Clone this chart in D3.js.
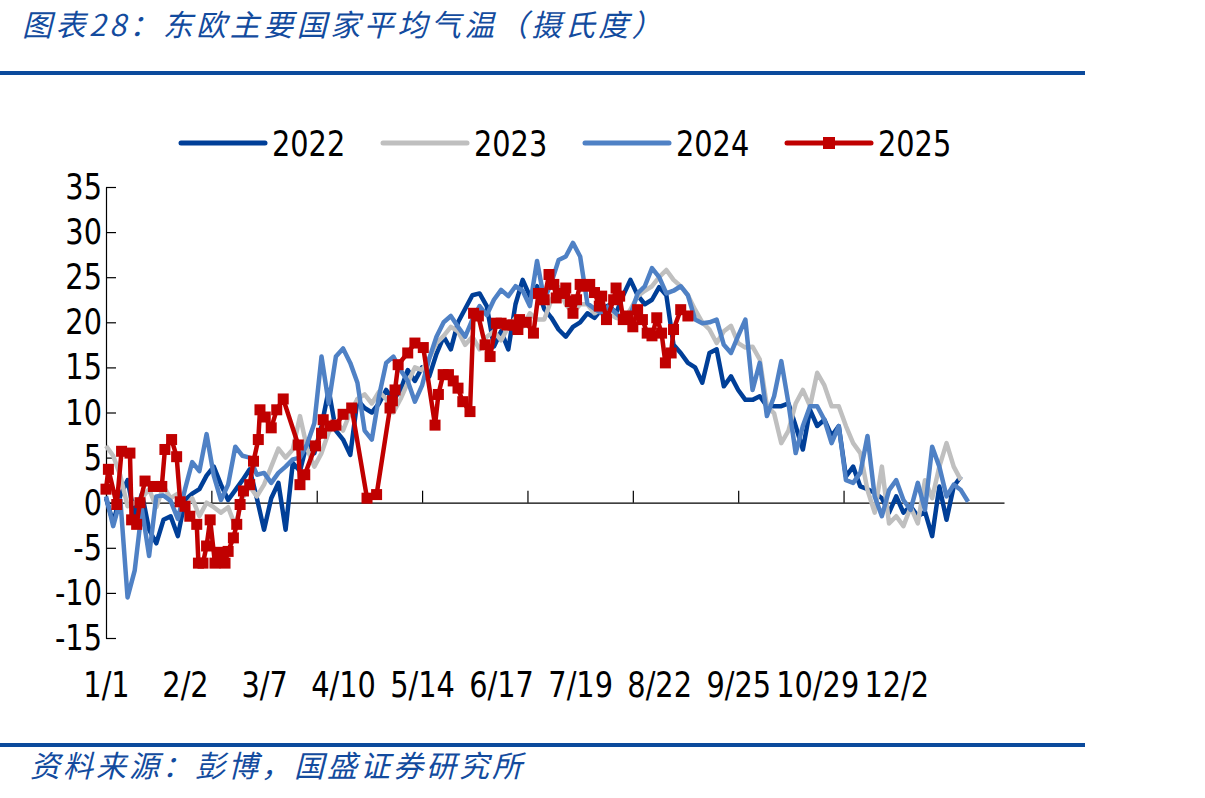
<!DOCTYPE html>
<html>
<head>
<meta charset="utf-8">
<script src="https://cdn.jsdelivr.net/npm/d3@7/dist/d3.min.js"></script>
<style>
  body { margin: 0; background: #fff; }
  svg { display: block; }
  .axis text { font-family: "DejaVu Sans", sans-serif; font-size: 36px; fill: #000; }
</style>
</head>
<body>
<div id="chart"></div>
<script>
const svgWidth = 1205;
const svgHeight = 798;

// category axis: one category per day, labels every 33, tick marks every 44
const tickLabels = ["1/1", "2/2", "3/7", "4/10", "5/14", "6/17", "7/19", "8/22", "9/25", "10/29", "12/2"];
const labelStep = 33;
const tickStep = 44;
const nCats = 375;
const yTicks = [-15, -10, -5, 0, 5, 10, 15, 20, 25, 30, 35];

const years = ["2022", "2023", "2024", "2025"];
const colors = ["#003f98", "#bfbfbf", "#4f81c5", "#c00000"];

// 2022-2024 read every 3 days
const dayIdx = d3.range(0, 361, 3);
const t2022 = [0.5, -2.2, 0.8, 2.5, -1.5, 1, -3, -4.5, -1.9, -1.5, -3.7, 0.3, 1, 1.5, 3, 4, 2, 0.3, 1.4, 2.5,
  3.7, 0.5, -3, 0.5, 2.2, -3, 4.4, 3.5, 6.7, 5.5, 8.5, 12.5, 8, 7, 5.3, 11.4, 10.5, 10, 11, 12.5,
  11.4, 12.5, 14.7, 13.5, 15, 14, 16.5, 18.4, 17, 20, 21.5, 23, 23.2, 21.8, 17.3, 19, 17, 22, 24.7, 22.9,
  24, 21.5, 20.5, 19.2, 18.4, 19.5, 20, 21, 20.5, 21.5, 21.9, 21, 23, 24.7, 23, 22, 22.5, 23.9, 23, 17.5,
  16.6, 15.5, 15, 13.3, 16.6, 17, 12.9, 14, 12.5, 11.4, 11.4, 11.8, 10.7, 10.7, 10.7, 11, 8.5, 5.9, 10.3, 8.5,
  9.2, 7.4, 8.5, 2.9, 4, 1.8, 1.5, 1.1, 0.5, -1.1, 0.7, -1.1, -0.4, -1.5, -1, -3.7, 1.8, -1.9, 1.8, 2.9, null];
const t2023 = [6.3, 5.2, 3, -0.4, 0, 0.5, 1.5, -0.5, 1.8, 0.5, 1, -0.5, 0.5, -1.5, 0, -0.5, -1.1, -0.5, -2.6, 0.5,
  1.8, 0.7, 2, 4, 6, 5, 5.9, 9.6, 6, 4, 5.5, 7.8, 9, 8, 10, 11.5, 12, 11, 12.3, 11.5,
  10, 11.5, 13.3, 15, 14.7, 16, 17.7, 18.5, 19.5, 19, 17.5, 18.4, 17, 18.4, 19, 18, 19.5, 20.5, 19.5, 21,
  20.3, 20.3, 22.5, 23.9, 22, 21, 22, 22, 21, 21.5, 21, 20.5, 20.3, 21.4, 22.9, 23.5, 24, 25, 25.8, 24.7,
  24, 23, 21.4, 20, 19.2, 17.7, 19, 19.6, 17.7, 17.2, 17.3, 15.9, 10.7, 9.9, 6.6, 8, 11, 12.5, 10.7, 14.4,
  13, 10.7, 10.7, 8.5, 6.6, 5.5, 1.4, -1.1, 4, -2.3, -1.5, -2.6, -0.5, -2.3, 2.5, 0.5, 4, 6.6, 4, 2.5, null];
const t2024 = [0.7, -2.6, 0.3, -10.5, -7.5, -0.7, -5.9, 0.7, 0.8, 0.2, -1.8, 1.5, 4.5, 3.5, 7.6, 3, 0.3, 2, 6.2, 5.2,
  5, 3.1, 3.3, 2.2, 3.3, 4, 4.8, 5, 6.5, 8.8, 16.2, 11, 16.2, 17.1, 15.5, 13.3, 8, 7, 11.8, 15.5,
  16.2, 14.7, 13.5, 11.2, 13, 16, 18.4, 20, 20.7, 19.5, 18.4, 20.3, 21.8, 20.8, 22.5, 23.6, 22.9, 24, 23.5, 21.8,
  26.8, 22.5, 24.4, 26.9, 27.3, 28.8, 27.3, 22.1, 21.5, 21, 21.8, 21, 20.3, 20.8, 23.2, 24, 26, 25, 23.2, 23.5,
  24, 23, 20.3, 19.9, 20, 20.3, 17.5, 16.6, 18.5, 20.3, 12.5, 15.5, 9.6, 11.8, 15.7, 11, 5.5, 8.5, 10.7, 10.7,
  9.2, 6.6, 8.5, 2.5, 2.2, 3.3, 7.4, 0.7, -1.5, 1.4, 2.5, 0.3, -0.8, 2.2, -0.8, 6.2, 4, 0.7, 2, 1.4, 0.1];

// 2025 markers (day index, value)
const day2025 = [0, 1, 4.5, 6.5, 10, 10.7, 12.8, 14.2, 16.3, 19.8, 23.3, 24.6, 27.4, 29.5, 31, 33, 35, 37.9, 38.6, 40.5,
  42, 43.5, 45.5, 47.5, 49.7, 51, 53.2, 54.6, 56, 57.4, 60, 61.6, 63.6, 64.3, 66.5, 69, 71.3, 74, 80.3, 81,
  83, 87.5, 90, 90.7, 93.6, 96, 99, 102.6, 109, 113, 118.6, 119.6, 120.7, 122, 126, 129, 132.5, 137.4, 138.8, 140.8,
  143, 145, 147, 149, 152, 153.5, 155.5, 158.3, 160.4, 163, 165, 167.4, 170, 172, 172.7, 175.5, 178.5, 180.6, 183, 185,
  187, 188, 190, 192, 193.9, 195, 196.5, 198, 200, 202, 204, 206, 207, 209, 212, 213, 214.5, 216, 218, 220,
  222, 224, 226, 228, 230, 232, 233.6, 236, 237, 240, 243];
const t2025 = [1.5, 3.7, -0.2, 5.7, 5.5, -1.9, -2.4, 0, 2.4, 1.8, 1.8, 5.9, 7, 5.1, 0.1, -0.4, -1.5, -2.4, -6.7, -6.7,
  -4.8, -1.9, -6.7, -5.5, -6.7, -5.4, -3.9, -2.4, -0.2, 1.3, 2, 4.6, 7, 10.3, 9.5, 8.3, 10.3, 11.5, 6.4, 2,
  3.1, 6.3, 7.7, 9.2, 8.5, 8.6, 9.8, 10.5, 0.5, 0.9, 10.5, 11.3, 12.5, 15.3, 16.6, 17.7, 17.2, 8.6, 12, 14.2,
  14.2, 13.5, 12.7, 11.2, 10.1, 21, 20.7, 17.5, 16.2, 19.9, 19.9, 19.7, 19.7, 19.2, 20.3, 20, 18.8, 23.2, 22.5, 25.3,
  24.2, 22.7, 23.2, 23.8, 22.3, 21, 22.5, 24.2, 24, 24.2, 23.3, 21.8, 22.9, 20.3, 22.5, 23.8, 22.9, 20.3, 20.7, 19.5,
  21.4, 20.3, 18.8, 18.5, 20.5, 18.8, 15.5, 16.6, 19.2, 21.4, 20.7];

const SX = 0.8; // narrow the DejaVu glyphs to a Tahoma-like width

const svg = d3.select("#chart")
  .append("svg")
  .attr("width", svgWidth)
  .attr("height", svgHeight);

// title, rules and source
svg.append("text")
  .attr("x", 22)
  .attr("y", 36)
  .attr("font-family", "'Noto Sans CJK SC', sans-serif")
  .attr("font-size", 30)
  .attr("font-style", "italic")
  .attr("letter-spacing", 3.5)
  .attr("fill", "#134b9e")
  .text("图表28：东欧主要国家平均气温（摄氏度）");

svg.append("rect").attr("x", 0).attr("y", 71).attr("width", 1085).attr("height", 4).attr("fill", "#0b4a9c");
svg.append("rect").attr("x", 0).attr("y", 743).attr("width", 1085).attr("height", 4).attr("fill", "#0b4a9c");

svg.append("text")
  .attr("x", 30)
  .attr("y", 777)
  .attr("font-family", "'Noto Sans CJK SC', sans-serif")
  .attr("font-size", 30)
  .attr("font-style", "italic")
  .attr("letter-spacing", 3)
  .attr("fill", "#134b9e")
  .text("资料来源：彭博，国盛证券研究所");

// scales
const x = d3.scaleLinear().domain([0, nCats]).range([106, 1004]);
const y = d3.scaleLinear().domain([-15, 35]).range([638, 187]);

// y axis, ticks pointing into the plot
const yAxis = svg.append("g")
  .attr("class", "axis")
  .attr("transform", "translate(106,0)")
  .call(d3.axisLeft(y).tickValues(yTicks).tickSizeInner(-10).tickSizeOuter(0).tickPadding(0)
    .tickFormat(d => String(d)));
yAxis.selectAll("path, line").attr("stroke", "#000").attr("stroke-width", 1.2);
yAxis.selectAll("text")
  .attr("x", 0)
  .attr("transform", `translate(-4,0) scale(${SX},1)`);

// x axis line at zero with tick marks
const tickCats = d3.range(0, nCats, tickStep);
const xAxis = svg.append("g")
  .attr("class", "axis")
  .attr("transform", `translate(0,${y(0)})`)
  .call(d3.axisBottom(x).tickValues(tickCats).tickSizeInner(-12).tickSizeOuter(0).tickFormat(""));
xAxis.selectAll("path, line").attr("stroke", "#000").attr("stroke-width", 1.2);

// category labels, placed low
const labelCats = tickLabels.map((d, i) => i * labelStep);
const xLabels = svg.append("g")
  .attr("class", "axis")
  .attr("transform", "translate(0,671)")
  .call(d3.axisBottom(x).tickValues(labelCats).tickSize(0).tickPadding(0)
    .tickFormat((d, i) => tickLabels[i]));
xLabels.select(".domain").remove();
xLabels.selectAll("text")
  .attr("y", 0)
  .attr("transform", `scale(${SX},1)`);

// lines
const series = [t2022, t2023, t2024];
const line = d3.line()
  .defined(d => d[1] !== null)
  .x(d => x(d[0]))
  .y(d => y(d[1]));

series.forEach((vals, i) => {
  svg.append("path")
    .datum(dayIdx.map((c, j) => [c, vals[j]]))
    .attr("fill", "none")
    .attr("stroke", colors[i])
    .attr("stroke-width", 4.5)
    .attr("stroke-linejoin", "round")
    .attr("d", line);
});

const pts2025 = day2025.map((c, j) => [c, t2025[j]]);
svg.append("path")
  .datum(pts2025)
  .attr("fill", "none")
  .attr("stroke", colors[3])
  .attr("stroke-width", 4.5)
  .attr("stroke-linejoin", "round")
  .attr("d", line);

svg.append("g").selectAll("rect")
  .data(pts2025)
  .enter()
  .append("rect")
  .attr("x", d => x(d[0]) - 5.5)
  .attr("y", d => y(d[1]) - 5.5)
  .attr("width", 11)
  .attr("height", 11)
  .attr("fill", colors[3]);

// legend
const legend = svg.append("g").attr("transform", "translate(181,143)");
years.forEach((yr, i) => {
  const g = legend.append("g").attr("transform", `translate(${i * 202},0)`);
  g.append("line")
    .attr("x1", 0).attr("x2", 84)
    .attr("stroke", colors[i])
    .attr("stroke-width", 5)
    .attr("stroke-linecap", "round");
  if (yr === "2025") {
    g.append("rect").attr("x", 36).attr("y", -6).attr("width", 12).attr("height", 12).attr("fill", colors[i]);
  }
  g.append("text")
    .attr("transform", `translate(91,13) scale(${SX},1)`)
    .attr("font-family", "'DejaVu Sans', sans-serif")
    .attr("font-size", 36)
    .text(yr);
});
</script>
</body>
</html>
